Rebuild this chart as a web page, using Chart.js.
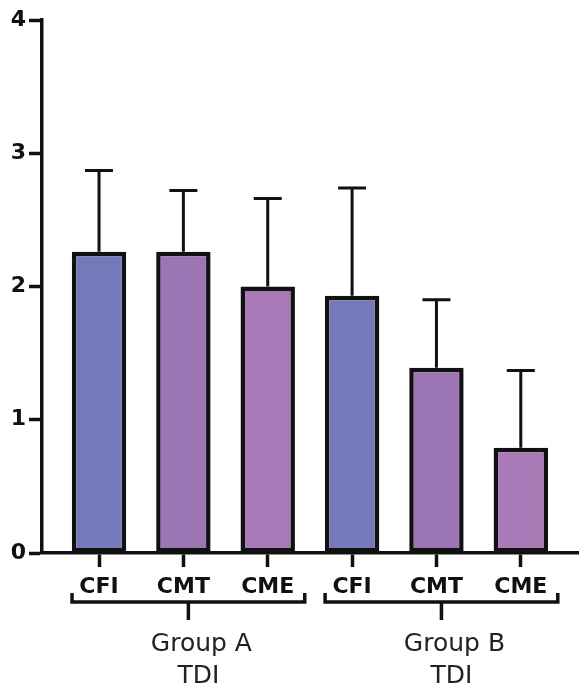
<!DOCTYPE html>
<html>
<head>
<meta charset="utf-8">
<script src="https://cdn.jsdelivr.net/npm/chart.js@4"></script>
<style>
  html, body { margin: 0; padding: 0; background: #fff; }
  #wrap { width: 579px; height: 687px; }
</style>
</head>
<body>
<div id="wrap"><canvas id="tdiChart" width="579" height="687"></canvas></div>
<script>
// values
let labels = ["CFI", "CMT", "CME", "CFI", "CMT", "CME"];
let means = [2.26, 2.26, 2.0, 1.93, 1.39, 0.79];
let sds = [0.61, 0.46, 0.66, 0.81, 0.51, 0.58];
let barColors = ["#7479ba", "#9c75b5", "#a97ab7", "#7479ba", "#9c75b5", "#a97ab7"];
let groups = [
  { name: "Group A", sub: "TDI", from: 0, to: 2 },
  { name: "Group B", sub: "TDI", from: 3, to: 5 },
];
let yTicks = [0, 1, 2, 3, 4];

let points = means.map((m, i) => ({ x: i, y: m }));

// error bars (upper only) drawn from the y scale
let errorBars = {
  id: "errorBars",
  afterDatasetsDraw(chart) {
    let ctx = chart.ctx;
    let xs = chart.scales.x;
    let ys = chart.scales.y;
    ctx.save();
    ctx.strokeStyle = "#111";
    ctx.lineWidth = 3;
    for (let i = 0; i < means.length; i++) {
      let px = xs.getPixelForValue(i);
      let top = ys.getPixelForValue(means[i] + sds[i]);
      let base = ys.getPixelForValue(means[i]);
      ctx.beginPath();
      ctx.moveTo(px, base);
      ctx.lineTo(px, top);
      ctx.moveTo(px - 14, top);
      ctx.lineTo(px + 14, top);
      ctx.stroke();
    }
    ctx.restore();
  },
};

// brackets + group names under the category labels
let groupBrackets = {
  id: "groupBrackets",
  afterDraw(chart) {
    let ctx = chart.ctx;
    let xs = chart.scales.x;
    let half = 27;
    let y = 602;
    ctx.save();
    ctx.strokeStyle = "#111";
    ctx.lineWidth = 3.5;
    ctx.fillStyle = "#222";
    ctx.font = "25px 'DejaVu Sans'";
    ctx.textAlign = "center";
    ctx.textBaseline = "alphabetic";
    groups.forEach((g) => {
      let x1 = xs.getPixelForValue(g.from) - half;
      let x2 = xs.getPixelForValue(g.to) + half + 10;
      let mid = (x1 + x2) / 2;
      ctx.beginPath();
      ctx.moveTo(x1, y - 9);
      ctx.lineTo(x1, y);
      ctx.lineTo(x2, y);
      ctx.lineTo(x2, y - 9);
      ctx.moveTo(mid, y);
      ctx.lineTo(mid, y + 18);
      ctx.stroke();
      // the group text sits a bit right of the bracket centre in the figure
      ctx.fillText(g.name, mid + 13, 651);
      ctx.fillText(g.sub, mid + 10, 683);
    });
    ctx.restore();
  },
};

let cfg = {
  type: "bar",
  data: {
    datasets: [
      {
        data: points,
        backgroundColor: barColors,
        borderColor: "#111",
        borderWidth: 4.5,
        borderSkipped: false,
        barPercentage: 0.645,
        categoryPercentage: 1,
      },
    ],
  },
  options: {
    responsive: false,
    animation: false,
    layout: { padding: { top: 20, right: 0, left: 0, bottom: 0 } },
    plugins: {
      legend: { display: false },
      tooltip: { enabled: false },
    },
    scales: {
      x: {
        type: "linear",
        offset: false,
        min: -0.676,
        max: 5.69,
        afterFit: (s) => { s.height = 134; },
        afterBuildTicks: (s) => { s.ticks = labels.map((l, i) => ({ value: i })); },
        border: { display: true, color: "#111", width: 3.5 },
        grid: {
          offset: false,
          drawOnChartArea: false,
          drawTicks: true,
          tickLength: 14,
          tickWidth: 3.5,
          tickColor: "#111",
        },
        ticks: {
          autoSkip: false,
          maxRotation: 0,
          padding: 7,
          color: "#111",
          font: { family: "DejaVu Sans", size: 22, weight: "bold" },
          callback: (v) => labels[v],
        },
      },
      y: {
        min: 0,
        max: 4,
        afterFit: (s) => { s.width = 42; },
        afterBuildTicks: (s) => { s.ticks = yTicks.map((v) => ({ value: v })); },
        border: { display: true, color: "#111", width: 3.5 },
        grid: {
          drawOnChartArea: false,
          drawTicks: true,
          tickLength: 13,
          tickWidth: 3.5,
          tickColor: "#111",
        },
        ticks: {
          padding: 3,
          color: "#111",
          font: { family: "DejaVu Sans", size: 22, weight: "bold" },
        },
      },
    },
  },
  plugins: [errorBars, groupBrackets],
};

let tdiChart = new Chart(document.getElementById("tdiChart"), cfg);
</script>
</body>
</html>
